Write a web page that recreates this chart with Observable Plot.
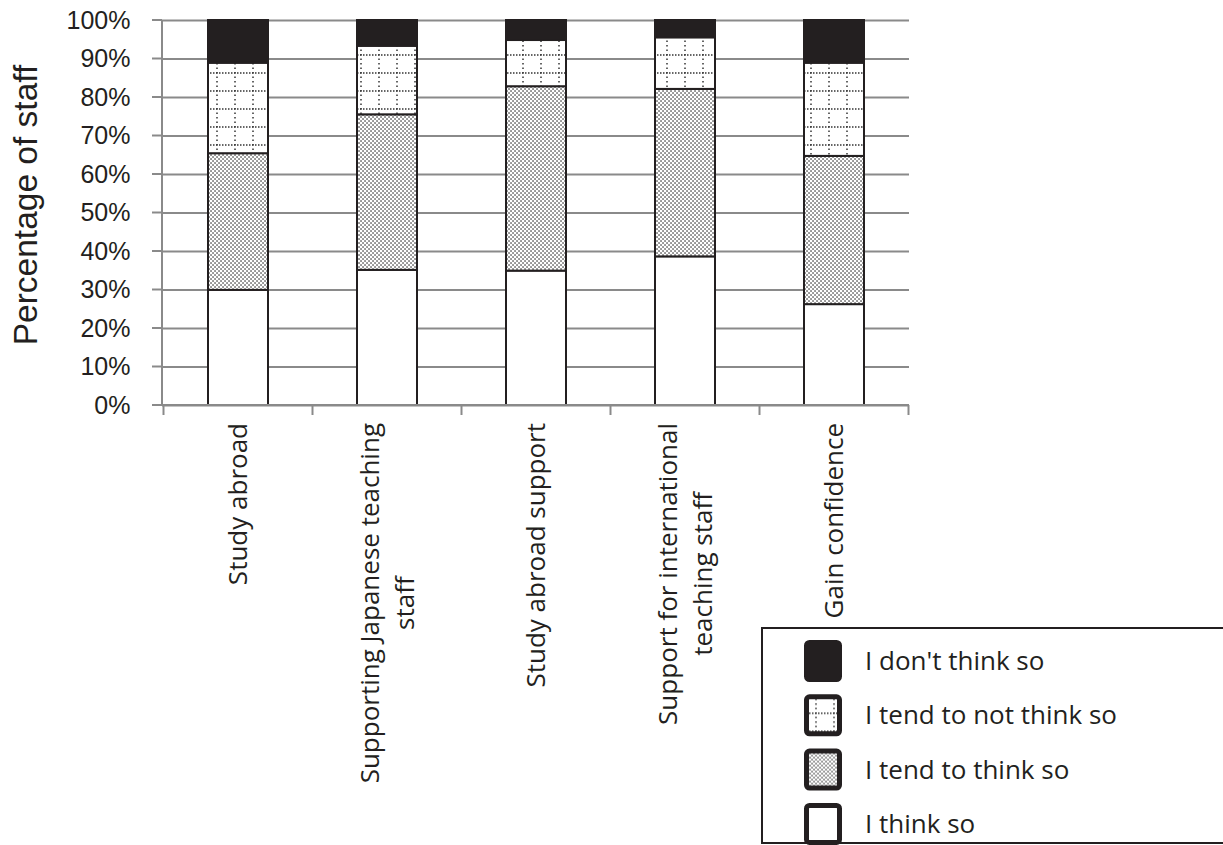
<!DOCTYPE html>
<html>
<head>
<meta charset="utf-8">
<script src="https://cdn.jsdelivr.net/npm/d3@7"></script>
<script src="https://cdn.jsdelivr.net/npm/@observablehq/plot@0.6"></script>
<style>
  body { margin: 0; background: #fff; }
  #chart { position: relative; width: 1223px; height: 845px; overflow: hidden; }
  #legend { position: absolute; left: 761px; top: 627px; }
</style>
</head>
<body>
<!-- fill patterns shared by the bars and the legend swatches -->
<svg width="0" height="0" style="position:absolute">
  <defs>
    <pattern id="dots" patternUnits="userSpaceOnUse" width="4" height="4">
      <rect width="4" height="4" fill="#fff"/>
      <rect x="0.3" y="0.3" width="1.45" height="1.45" fill="#444"/>
      <rect x="2.3" y="2.3" width="1.45" height="1.45" fill="#444"/>
    </pattern>
    <pattern id="dotgrid" patternUnits="userSpaceOnUse" width="18" height="18">
      <rect width="18" height="18" fill="#fff"/>
      <line x1="0" y1="1" x2="18" y2="1" stroke="#333" stroke-width="1.5" stroke-dasharray="1.5 1.5"/>
      <line x1="1" y1="0" x2="1" y2="18" stroke="#333" stroke-width="1.5" stroke-dasharray="1.5 3"/>
    </pattern>
  </defs>
</svg>
<div id="chart"></div>
<script>
// Survey items (line breaks mark wrapped labels)
const categories = [
  "Study abroad",
  "Supporting Japanese teaching\nstaff",
  "Study abroad support",
  "Support for international\nteaching staff",
  "Gain confidence"
];
// Responses, bottom of the stack first
const responses = ["I think so", "I tend to think so", "I tend to not think so", "I don't think so"];

// Share of staff (%) per item, one array per response
const thinkSo        = [29.9, 35.1, 34.9, 38.6, 26.2];
const tendToThink    = [35.5, 40.4, 47.9, 43.5, 38.5];
const tendToNotThink = [23.5, 17.8, 12.0, 13.4, 24.2];
const dontThink      = [11.1,  6.7,  5.2,  4.5, 11.1];

const yTicks = [0, 10, 20, 30, 40, 50, 60, 70, 80, 90, 100];

const responseFills = ["#ffffff", "url(#dots)", "url(#dotgrid)", "#231f20"];
const ink = "#231f20";
const rule = "#8a8a8a";

const seriesValues = [thinkSo, tendToThink, tendToNotThink, dontThink];
const rows = [];
responses.forEach((response, s) => {
  categories.forEach((category, i) => {
    rows.push({category, response, share: seriesValues[s][i]});
  });
});

const labelFont = "26px 'Open Sans'";
const measureCtx = document.createElement("canvas").getContext("2d");
measureCtx.font = labelFont;

// Axis lines, tick marks and wrapped, rotated category labels
function axisFrame(index, scales, values, dims) {
  const x = scales.x, y = scales.y;
  const left = dims.marginLeft;
  const right = dims.width - dims.marginRight;
  const top = dims.marginTop;
  const bottom = dims.height - dims.marginBottom;
  const bw = x.bandwidth ? x.bandwidth() : 0;
  const step = x.step ? x.step() : (x(categories[1]) - x(categories[0]));
  const g = d3.create("svg:g");

  // y axis line and outward ticks
  g.append("line").attr("x1", left).attr("x2", left).attr("y1", top).attr("y2", bottom)
    .attr("stroke", rule).attr("stroke-width", 2);
  g.selectAll(".yt").data(yTicks).join("line")
    .attr("x1", left - 10).attr("x2", left)
    .attr("y1", d => y(d)).attr("y2", d => y(d))
    .attr("stroke", rule).attr("stroke-width", 2);

  // x axis line with ticks between the bars
  g.append("line").attr("x1", left - 10).attr("x2", right).attr("y1", bottom).attr("y2", bottom)
    .attr("stroke", rule).attr("stroke-width", 2);
  const bounds = categories.map(c => x(c) - (step - bw) / 2);
  bounds.push(x(categories[categories.length - 1]) + bw + (step - bw) / 2);
  g.selectAll(".xt").data(bounds).join("line")
    .attr("x1", d => d).attr("x2", d => d)
    .attr("y1", bottom).attr("y2", bottom + 10)
    .attr("stroke", rule).attr("stroke-width", 2);

  // category labels: rotated, lines centred on each other, block hung from the axis
  const lineHeight = 35;
  categories.forEach(c => {
    const lines = c.split("\n");
    const L = d3.max(lines, t => measureCtx.measureText(t).width);
    const cx = x(c) + bw / 2;
    const t = g.append("text")
      .attr("transform", `translate(${cx},${bottom + 18}) rotate(-90)`)
      .attr("text-anchor", "middle")
      .attr("font-family", "'Open Sans', sans-serif")
      .attr("font-size", 26)
      .attr("fill", ink);
    lines.forEach((line, i) => {
      t.append("tspan")
        .attr("x", -L / 2)
        .attr("y", (i - (lines.length - 1) / 2) * lineHeight)
        .attr("dy", "0.35em")
        .text(line);
    });
  });
  return g.node();
}

const plot = Plot.plot({
  width: 1223,
  height: 845,
  marginTop: 20,
  marginBottom: 440,
  marginLeft: 162,
  marginRight: 314,
  style: {fontFamily: "'Liberation Sans', Arial, sans-serif", color: ink, background: "transparent"},
  x: {domain: categories, paddingInner: 0.6, paddingOuter: 0.3, axis: null},
  y: {domain: [0, 100], axis: null},
  color: {domain: responses, range: responseFills},
  marks: [
    Plot.gridY(yTicks, {stroke: rule, strokeOpacity: 1, strokeWidth: 2}),
    Plot.barY(rows, {
      x: "category", y: "share", fill: "response", order: responses,
      stroke: ink, strokeWidth: 2, inset: 0
    }),
    axisFrame,
    Plot.axisY(yTicks, {tickSize: 0, tickPadding: 32, tickFormat: d => d + "%", fontSize: 25, label: null, fill: ink}),
    Plot.text(["Percentage of staff"], {
      frameAnchor: "left", rotate: -90, dx: -136, dy: -8, fontSize: 33.5, fill: ink,
      textAnchor: "middle", lineAnchor: "middle"
    })
  ]
});

const chart = document.getElementById("chart");
chart.appendChild(plot);

// Legend: topmost response first
const legendOrder = responses.slice().reverse();
const legendFill = r => responseFills[responses.indexOf(r)];
const legend = d3.select(chart).append("svg")
  .attr("id", "legend")
  .attr("width", 480).attr("height", 220);
legend.append("rect")
  .attr("x", 1).attr("y", 1).attr("width", 500).attr("height", 215)
  .attr("fill", "#fff").attr("stroke", ink).attr("stroke-width", 2);
const item = legend.selectAll("g.item").data(legendOrder).join("g")
  .attr("class", "item")
  .attr("transform", (d, i) => `translate(0,${13 + i * 54.3})`);
item.append("rect")
  .attr("x", 45.5).attr("y", 2.5).attr("width", 33).attr("height", 37).attr("rx", 3)
  .attr("fill", d => legendFill(d))
  .attr("stroke", ink).attr("stroke-width", 5);
item.append("text")
  .attr("x", 104).attr("y", 30)
  .attr("font-family", "'Open Sans', sans-serif")
  .attr("font-size", 26)
  .attr("fill", ink)
  .text(d => d);
</script>
</body>
</html>
